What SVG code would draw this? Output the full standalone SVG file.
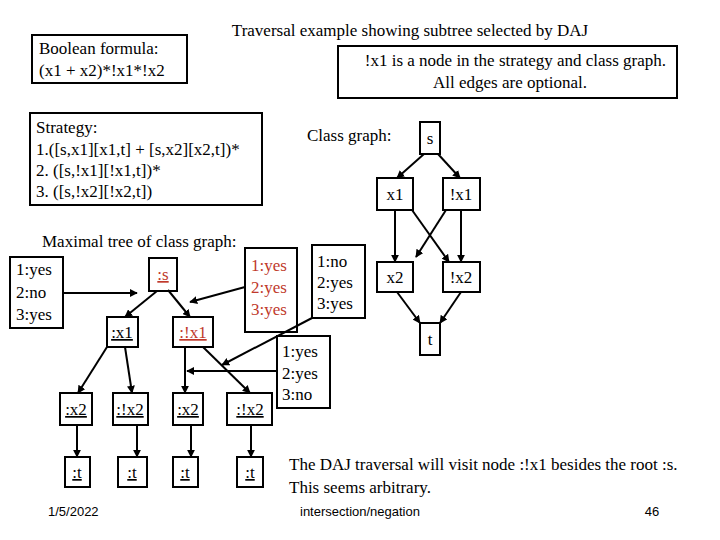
<svg xmlns="http://www.w3.org/2000/svg" width="720" height="540" viewBox="0 0 720 540">
<defs><marker id="a" viewBox="0 0 10 10" refX="9" refY="5" markerWidth="4" markerHeight="4" orient="auto"><path d="M0,0L10,5L0,10z" fill="#000"/></marker></defs>
<style>
text{font-family:"Liberation Serif",serif;font-size:17px;fill:#000}
rect{fill:#fff;stroke:#000;stroke-width:2}
line{stroke:#000;stroke-width:2;marker-end:url(#a)}
.r{fill:#c0392b}
.u{text-decoration:underline}
.m{text-anchor:middle}
.s{font-family:"Liberation Sans",sans-serif;font-size:13px}
</style>
<rect width="720" height="540" style="fill:#fff;stroke:none"/>
<text x="410" y="36" class="m">Traversal example showing subtree selected by DAJ</text>
<g id="formula"><rect x="32" y="35" width="155" height="48"/><text x="39" y="54">Boolean formula:</text><text x="39" y="76">(x1 + x2)*!x1*!x2</text></g>
<g id="note"><rect x="338" y="46" width="339" height="52"/><text x="666" y="66" text-anchor="end">!x1 is a node in the strategy and class graph.</text><text x="510" y="88" class="m">All edges are optional.</text></g>
<g id="strategy"><rect x="30" y="113" width="232" height="92"/><text x="36" y="133">Strategy:</text><text x="36" y="155">1.([s,x1][x1,t] + [s,x2][x2,t])*</text><text x="36" y="176">2. ([s,!x1][!x1,t])*</text><text x="36" y="197">3. ([s,!x2][!x2,t])</text></g>
<text x="307" y="141">Class graph:</text>
<text x="42" y="247">Maximal tree of class graph:</text>
<g id="cg-s"><rect x="420" y="122" width="20" height="32"/><text x="430" y="144" class="m">s</text></g>
<g id="cg-x1"><rect x="377" y="178" width="36" height="32"/><text x="395" y="200" class="m">x1</text></g>
<g id="cg-nx1"><rect x="443" y="178" width="37" height="32"/><text x="461" y="200" class="m">!x1</text></g>
<g id="cg-x2"><rect x="377" y="262" width="36" height="30"/><text x="395" y="283" class="m">x2</text></g>
<g id="cg-nx2"><rect x="443" y="262" width="37" height="30"/><text x="461" y="283" class="m">!x2</text></g>
<g id="cg-t"><rect x="420" y="323" width="20" height="32"/><text x="430" y="345" class="m">t</text></g>
<g id="n1"><rect x="10" y="257" width="53" height="71"/><text x="16" y="275">1:yes</text><text x="16" y="298">2:no</text><text x="16" y="320">3:yes</text></g>
<g id="n2"><rect x="245" y="248" width="52" height="84"/><text x="251" y="271" class="r">1:yes</text><text x="251" y="293" class="r">2:yes</text><text x="251" y="315" class="r">3:yes</text></g>
<g id="n3"><rect x="312" y="245" width="53" height="73"/><text x="317" y="267">1:no</text><text x="317" y="288">2:yes</text><text x="317" y="309">3:yes</text></g>
<g id="n4"><rect x="277" y="336" width="53" height="72"/><text x="282" y="357">1:yes</text><text x="282" y="379">2:yes</text><text x="282" y="400">3:no</text></g>
<g id="ts"><rect x="149" y="258" width="28" height="33"/><text x="163" y="280" class="m r u">:s</text></g>
<g id="tx1"><rect x="107" y="317" width="31" height="30"/><text x="122" y="338" class="m u">:x1</text></g>
<g id="tnx1"><rect x="173" y="317" width="40" height="30"/><text x="193" y="338" class="m r u">:!x1</text></g>
<g id="tx2a"><rect x="60" y="393" width="32" height="32"/><text x="76" y="415" class="m u">:x2</text></g>
<g id="tnx2a"><rect x="113" y="393" width="35" height="32"/><text x="130" y="415" class="m u">:!x2</text></g>
<g id="tx2b"><rect x="173" y="393" width="30" height="32"/><text x="188" y="415" class="m u">:x2</text></g>
<g id="tnx2b"><rect x="227" y="393" width="45" height="32"/><text x="250" y="415" class="m u">:!x2</text></g>
<g id="tt1"><rect x="65" y="457" width="25" height="30"/><text x="77" y="478" class="m u">:t</text></g>
<g id="tt2"><rect x="118" y="457" width="29" height="30"/><text x="132" y="478" class="m u">:t</text></g>
<g id="tt3"><rect x="173" y="457" width="25" height="30"/><text x="185" y="478" class="m u">:t</text></g>
<g id="tt4"><rect x="237" y="457" width="26" height="30"/><text x="250" y="478" class="m u">:t</text></g>
<g id="connectors">
<line x1="424" y1="154" x2="397" y2="178"/><line x1="438" y1="154" x2="460" y2="178"/>
<line x1="395" y1="210" x2="395" y2="262"/><line x1="412" y1="210" x2="449" y2="262"/>
<line x1="461" y1="210" x2="461" y2="262"/><line x1="446" y1="210" x2="416" y2="257"/>
<line x1="397" y1="292" x2="420" y2="323"/><line x1="461" y1="292" x2="440" y2="323"/>
<line x1="63" y1="293" x2="137" y2="293"/><line x1="245" y1="287" x2="190" y2="302"/>
<line x1="312" y1="318" x2="222" y2="365"/><line x1="277" y1="371" x2="187" y2="371"/>
<line x1="157" y1="291" x2="125" y2="317"/><line x1="168" y1="290" x2="190" y2="317"/>
<line x1="107" y1="347" x2="78" y2="393"/><line x1="125" y1="347" x2="132" y2="393"/>
<line x1="185" y1="347" x2="185" y2="393"/><line x1="203" y1="347" x2="250" y2="393"/>
<line x1="77" y1="425" x2="77" y2="457"/><line x1="137" y1="425" x2="137" y2="457"/>
<line x1="191" y1="425" x2="191" y2="457"/><line x1="251" y1="425" x2="251" y2="457"/>
</g>
<text x="289" y="470">The DAJ traversal will visit node :!x1 besides the root :s.</text>
<text x="289" y="493">This seems arbitrary.</text>
<text x="48" y="516" class="s">1/5/2022</text>
<text x="360" y="516" class="s m">intersection/negation</text>
<text x="652" y="516" class="s m">46</text>
</svg>
